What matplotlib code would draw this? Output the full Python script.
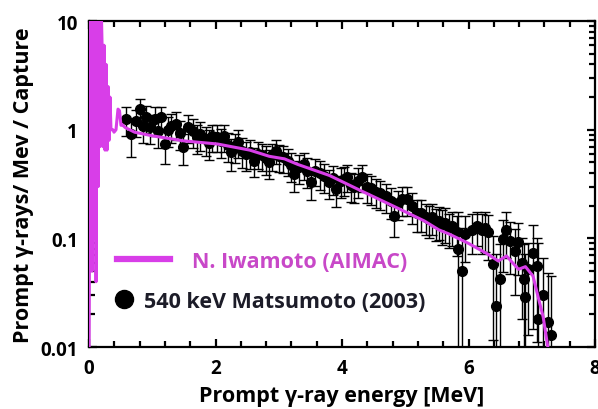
import matplotlib

matplotlib.use("Agg")
import matplotlib.pyplot as plt
from matplotlib.ticker import MultipleLocator, LogLocator, FixedLocator, NullFormatter

plt.rcParams["font.family"] = ["Open Sans", "DejaVu Sans"]
plt.rcParams["font.weight"] = "bold"

# Iwamoto (AIMAC) calculated spectrum: energy [MeV], gammas / MeV / capture
iwamoto_e = [
    0.000, 0.016, 0.030, 0.047, 0.063, 0.080, 0.094, 0.110, 0.126, 0.142,
    0.157, 0.173, 0.190, 0.205, 0.220, 0.236, 0.252, 0.268, 0.283, 0.300,
    0.315, 0.330, 0.346, 0.378, 0.394, 0.425, 0.457, 0.480, 0.504, 0.52,
    0.57, 0.72, 1.00, 1.50, 2.03, 2.54, 2.85, 3.09, 3.30, 3.80,
    4.27, 4.80, 5.30, 5.53, 5.69, 6.00, 6.30, 6.47, 6.60, 6.79,
    6.90, 7.02, 7.10, 7.18, 7.26,
]
iwamoto_y = [
    0.010, 3.0, 20.0, 0.05, 20.0, 0.10, 20.0, 0.04, 20.0, 0.30,
    20.0, 0.70, 15.0, 6.0, 0.70, 6.0, 0.65, 4.0, 0.65, 2.5,
    0.80, 2.0, 1.00, 1.00, 0.95, 1.00, 1.55, 1.50, 1.10, 1.12,
    1.05, 0.95, 0.88, 0.79, 0.74, 0.65, 0.57, 0.54, 0.48, 0.38,
    0.28, 0.20, 0.145, 0.12, 0.11, 0.09, 0.072, 0.062, 0.069, 0.052,
    0.055, 0.045, 0.029, 0.019, 0.0095,
]

# Matsumoto (2003), 540 keV neutrons: energy, value, relative uncertainty
matsu_e = [
    0.59, 0.67, 0.74, 0.80, 0.85, 0.90, 0.96, 1.04, 1.09, 1.14,
    1.20, 1.25, 1.30, 1.38, 1.43, 1.49, 1.56, 1.64, 1.70, 1.75,
    1.85, 1.90, 1.95, 2.03, 2.08, 2.14, 2.20, 2.25, 2.30, 2.35,
    2.41, 2.48, 2.55, 2.61, 2.67, 2.74, 2.80, 2.85, 2.90, 2.96,
    3.01, 3.06, 3.14, 3.19, 3.24, 3.32, 3.40, 3.45, 3.51, 3.58,
    3.65, 3.72, 3.80, 3.85, 3.90, 3.98, 4.03, 4.08, 4.14, 4.19,
    4.26, 4.32, 4.40, 4.46, 4.53, 4.60, 4.69, 4.77, 4.82, 4.88,
    4.95, 5.03, 5.10, 5.18, 5.25, 5.32, 5.38, 5.42, 5.48, 5.53,
    5.58, 5.63, 5.69, 5.74, 5.82, 5.84, 5.89, 5.95, 6.05, 6.13,
    6.21, 6.26, 6.31, 6.39, 6.44, 6.50, 6.55, 6.60, 6.66, 6.73,
    6.79, 6.84, 6.87, 6.89, 6.94, 7.02, 7.08, 7.10, 7.18, 7.26,
    7.31,
]
matsu_y = [
    1.25, 0.91, 1.20, 1.55, 1.08, 1.30, 1.06, 1.25, 0.98, 1.31,
    0.74, 1.00, 1.08, 1.13, 0.93, 0.69, 1.06, 0.97, 0.85, 0.91,
    0.82, 0.76, 0.87, 0.86, 0.79, 0.87, 0.72, 0.62, 0.70, 0.77,
    0.64, 0.60, 0.62, 0.52, 0.60, 0.58, 0.55, 0.50, 0.58, 0.64,
    0.57, 0.56, 0.52, 0.47, 0.39, 0.45, 0.48, 0.42, 0.33, 0.42,
    0.40, 0.375, 0.33, 0.36, 0.285, 0.34, 0.35, 0.37, 0.31, 0.30,
    0.34, 0.37, 0.30, 0.29, 0.27, 0.26, 0.246, 0.22, 0.16, 0.21,
    0.23, 0.23, 0.20, 0.17, 0.17, 0.158, 0.15, 0.158, 0.14, 0.145,
    0.135, 0.14, 0.125, 0.13, 0.114, 0.08, 0.05, 0.11, 0.12, 0.13,
    0.12, 0.125, 0.114, 0.058, 0.024, 0.042, 0.098, 0.12, 0.095, 0.076,
    0.093, 0.060, 0.042, 0.029, 0.052, 0.074, 0.056, 0.018, 0.030, 0.017,
    0.013,
]
matsu_rel = [
    0.30, 0.38, 0.28, 0.25, 0.30, 0.28, 0.30, 0.30, 0.30, 0.25,
    0.35, 0.30, 0.30, 0.28, 0.30, 0.32, 0.28, 0.30, 0.30, 0.30,
    0.30, 0.30, 0.28, 0.28, 0.30, 0.28, 0.30, 0.32, 0.30, 0.28,
    0.30, 0.30, 0.30, 0.30, 0.28, 0.28, 0.30, 0.30, 0.28, 0.25,
    0.28, 0.28, 0.28, 0.30, 0.32, 0.30, 0.28, 0.30, 0.32, 0.28,
    0.30, 0.30, 0.30, 0.30, 0.32, 0.30, 0.30, 0.28, 0.30, 0.30,
    0.30, 0.28, 0.30, 0.30, 0.30, 0.30, 0.30, 0.32, 0.35, 0.30,
    0.30, 0.30, 0.32, 0.32, 0.32, 0.32, 0.33, 0.32, 0.33, 0.33,
    0.35, 0.35, 0.35, 0.35, 0.40, 1.20, 1.50, 0.45, 0.40, 0.35,
    0.40, 0.40, 0.45, 0.80, 2.00, 1.10, 0.50, 0.45, 0.50, 0.60,
    0.50, 0.70, 1.10, 1.50, 0.75, 0.80, 0.80, 4.00, 1.20, 1.80,
    2.50,
]

magenta = "#d83ee8"

fig = plt.figure(figsize=(5.98, 4.10), dpi=100)
ax = fig.add_axes([0.149, 0.151, 0.846, 0.795])

matsu_err = [y * r for y, r in zip(matsu_y, matsu_rel)]
ax.errorbar(matsu_e, matsu_y, yerr=matsu_err, fmt="o", color="black",
            markersize=7, ecolor="black", elinewidth=1.0, capsize=3.5,
            capthick=1.0, zorder=2)
ax.plot(iwamoto_e, iwamoto_y, color=magenta, lw=2.2, zorder=3)

ax.set_yscale("log")
ax.set_xlim(0, 8)
ax.set_ylim(0.01, 10)

ax.xaxis.set_major_locator(MultipleLocator(2))
ax.xaxis.set_minor_locator(MultipleLocator(0.4))
ax.yaxis.set_major_locator(FixedLocator([0.01, 0.1, 1, 10]))
ax.yaxis.set_minor_locator(LogLocator(base=10, subs=range(2, 10)))
ax.yaxis.set_minor_formatter(NullFormatter())
ax.set_yticklabels(["0.01", "0.1", "1", "10"])

ax.tick_params(which="both", direction="in", top=True, right=True,
               width=1.6, labelsize=13.5)
ax.tick_params(which="major", length=6, pad=8)
ax.tick_params(which="minor", length=4)
for s in ax.spines.values():
    s.set_linewidth(1.6)
for lab in ax.get_xticklabels() + ax.get_yticklabels():
    lab.set_fontweight("bold")

ax.set_xlabel("Prompt γ-ray energy [MeV]", fontsize=15.5, fontweight="bold",
              labelpad=5)
ax.set_ylabel("Prompt γ-rays/ Mev / Capture", fontsize=15.5,
              fontweight="bold", labelpad=5)

# two separate legend entries, one for each data set
line_handle = plt.Line2D([], [], color=magenta, lw=4.5)
leg1 = ax.legend([line_handle], ["N. Iwamoto (AIMAC)"], loc="center left",
                 bbox_to_anchor=(0.055, 0.264), frameon=False,
                 handlelength=2.45, handletextpad=1.05, borderpad=0,
                 borderaxespad=0, labelcolor="#c848c8",
                 prop={"weight": "bold", "size": 15.5})
ax.add_artist(leg1)
dot_handle = plt.Line2D([], [], color="black", marker="o", lw=0,
                        markersize=13)
ax.legend([dot_handle], ["540 keV Matsumoto (2003)"], loc="center left",
          bbox_to_anchor=(0.048, 0.141), frameon=False,
          handlelength=0.95, handletextpad=0.45, borderpad=0, borderaxespad=0,
          labelcolor="#1c1c28", prop={"weight": "bold", "size": 15.5})

fig.savefig("out.png", dpi=100)
